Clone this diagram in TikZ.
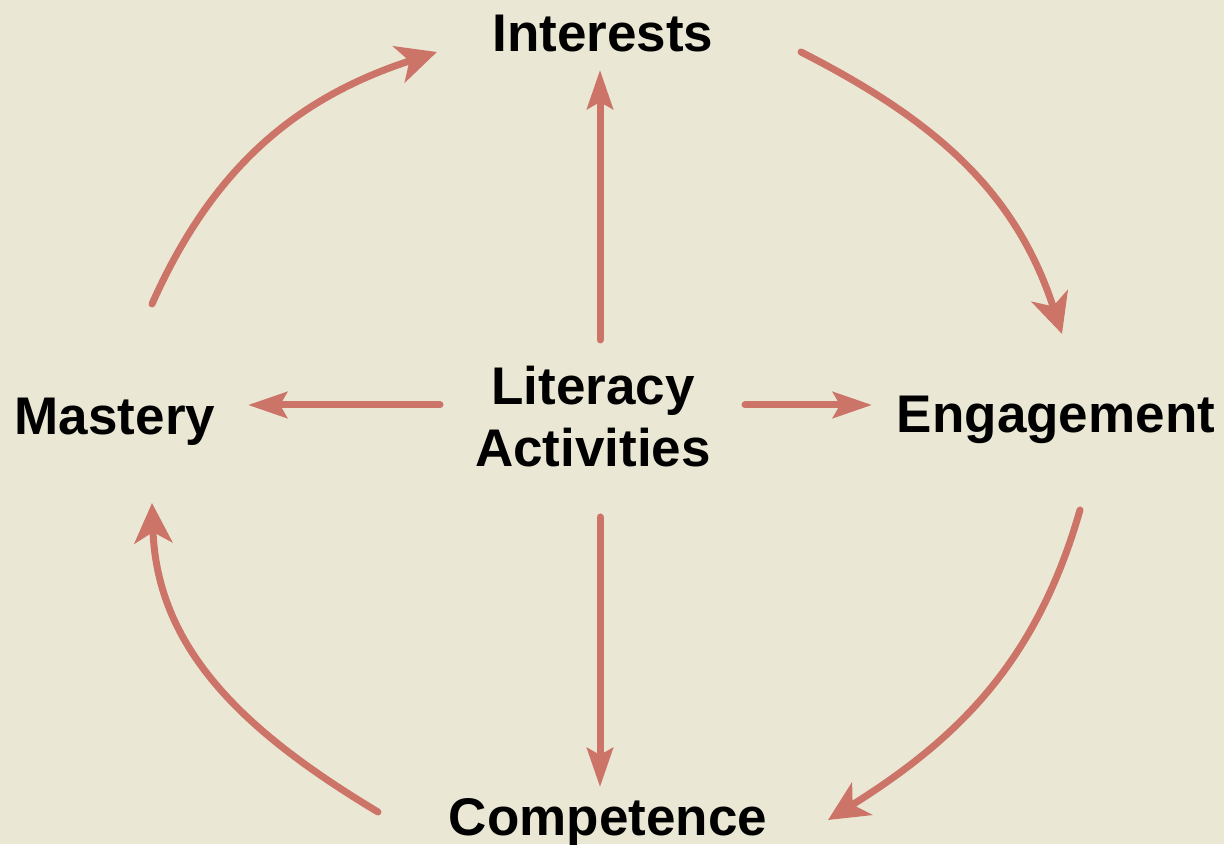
\documentclass[tikz,border=0pt]{standalone}
\usepackage{fontspec}
\setmainfont{Liberation Sans}
\usetikzlibrary{arrows.meta}
\definecolor{paper}{HTML}{EAE8D4}
\definecolor{flow}{HTML}{CC7468}
\begin{document}
\begin{tikzpicture}[x=1pt,y=1pt,
  label/.style={font=\bfseries\fontsize{53}{62}\selectfont, inner sep=0pt, anchor=base, align=center},
  flowarrow/.style={draw=flow, line width=7pt, line cap=round,
    -{Stealth[length=39pt, width=26pt, inset=7pt]}},
  cyclearrow/.style={draw=flow, line width=7pt, line cap=round,
    -{Stealth[length=40pt, width=38pt, inset=11pt]}}]
  % canvas
  \fill[paper] (0,0) rectangle (1224,844);
  \useasboundingbox (0,0) rectangle (1224,844);

  % labels
  \node[label] (int) at (603,792) {Interests};
  \node[label] (mas) at (115,409) {Mastery};
  \node[label] (eng) at (1056,411) {Engagement};
  \node[label] (com) at (608,9) {Competence};
  \node[label, anchor=center] (lit) at (593,427) {Literacy\\Activities};

  % arrow ends
  \coordinate (litN) at (600,504);
  \coordinate (intS) at (600,774);
  \coordinate (litE) at (745,439);
  \coordinate (engW) at (872,439);
  \coordinate (litW) at (440,439);
  \coordinate (masE) at (248,439);
  \coordinate (litS) at (600,327);
  \coordinate (comN) at (600,57);

  \coordinate (masNE) at (152,540);
  \coordinate (intW)  at (437,792);
  \coordinate (intE)  at (801,792);
  \coordinate (engN)  at (1062,510);
  \coordinate (engS)  at (1080,334);
  \coordinate (comE)  at (828,24);
  \coordinate (comW)  at (378,32);
  \coordinate (masS)  at (152,341);

  % spokes from the centre
  \draw[flowarrow] (litN) -- (intS);
  \draw[flowarrow] (litE) -- (engW);
  \draw[flowarrow] (litW) -- (masE);
  \draw[flowarrow] (litS) -- (comN);

  % outer cycle
  \draw[cyclearrow] (masNE) to[out=66, in=198] (intW);
  \draw[cyclearrow] (intE) to[out=-27, in=108] (engN);
  \draw[cyclearrow] (engS) to[out=-106, in=32] (comE);
  \draw[cyclearrow] (comW) to[out=149, in=-88] (masS);
\end{tikzpicture}
\end{document}
